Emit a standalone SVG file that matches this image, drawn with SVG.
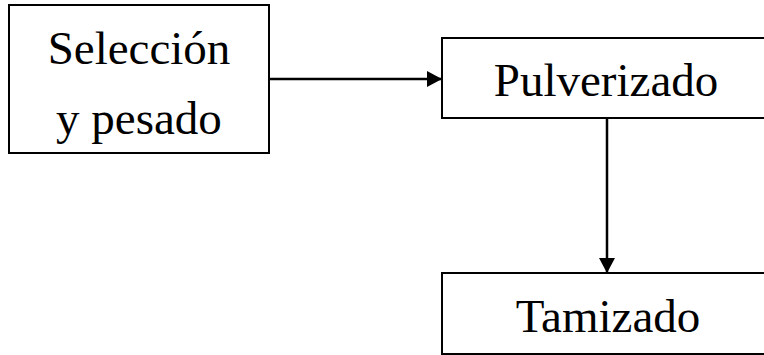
<svg xmlns="http://www.w3.org/2000/svg" width="764" height="355" viewBox="0 0 764 355">
<style>
.box{fill:#fff;stroke:#000;stroke-width:2}
.t{font-family:"Liberation Serif","Times New Roman",serif;font-size:47px;fill:#000;text-anchor:middle}
.c{stroke:#000;stroke-width:2.5;fill:none}
</style>
<defs>
<marker id="ah" markerWidth="16" markerHeight="16" refX="15" refY="8" orient="auto" markerUnits="userSpaceOnUse">
<path d="M0,0 L15,8 L0,16 Z" fill="#000"/>
</marker>
</defs>
<rect width="764" height="355" fill="#fff"/>
<g id="seleccion">
<rect class="box" x="9" y="5" width="260" height="148"/>
<text class="t" x="139" y="64">Selección</text>
<text class="t" x="139" y="134">y pesado</text>
</g>
<g id="pulverizado">
<rect class="box" x="442" y="38" width="330" height="80"/>
<text class="t" x="606" y="96">Pulverizado</text>
</g>
<g id="tamizado">
<rect class="box" x="442" y="273" width="330" height="81"/>
<text class="t" x="608" y="332">Tamizado</text>
</g>
<g id="connectors">
<line class="c" x1="269" y1="79" x2="442" y2="79" marker-end="url(#ah)"/>
<line class="c" x1="607" y1="118" x2="607" y2="273" marker-end="url(#ah)"/>
</g>
</svg>
